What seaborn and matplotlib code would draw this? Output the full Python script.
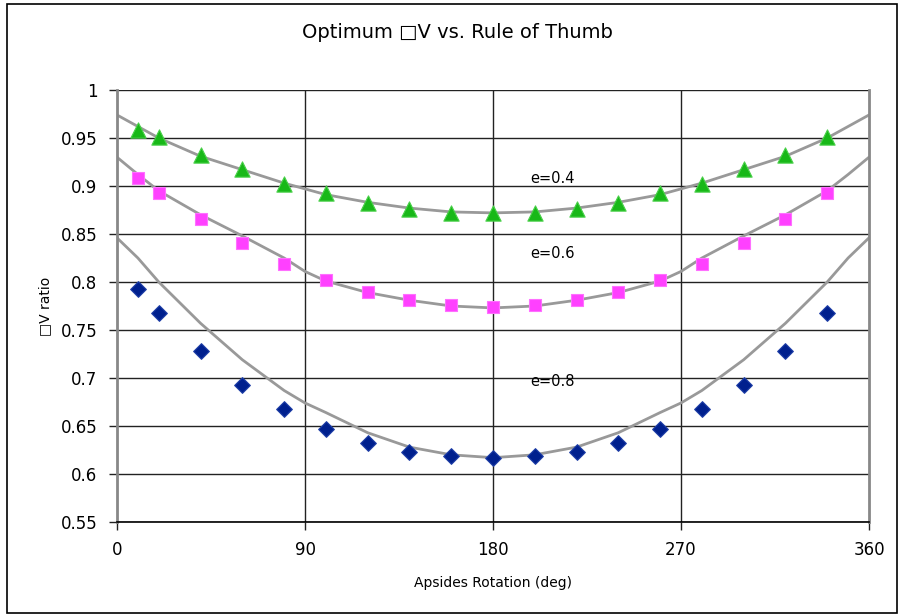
import matplotlib
matplotlib.use("Agg")
import matplotlib.pyplot as plt
import seaborn as sns
import pandas as pd
from matplotlib.patches import Rectangle

# ---- data ----
x_pts = [10, 20, 40, 60, 80, 100, 120, 140, 160, 180, 200, 220, 240, 260, 280, 300, 320, 340]
e04_pts = [0.958, 0.951, 0.932, 0.918, 0.902, 0.893, 0.882, 0.876, 0.872, 0.872,
           0.872, 0.876, 0.882, 0.893, 0.902, 0.918, 0.932, 0.951]
e06_pts = [0.908, 0.893, 0.866, 0.841, 0.819, 0.802, 0.790, 0.781, 0.776, 0.774,
           0.776, 0.781, 0.790, 0.802, 0.819, 0.841, 0.866, 0.893]
e08_pts = [0.793, 0.768, 0.728, 0.693, 0.668, 0.647, 0.632, 0.623, 0.619, 0.617,
           0.619, 0.623, 0.632, 0.647, 0.668, 0.693, 0.728, 0.768]

x_line = [0, 10, 20, 40, 60, 80, 90, 100, 120, 140, 160, 180, 200, 220, 240, 260, 270, 280, 300, 320, 340, 350, 360]
e04_line = [0.974, 0.962, 0.950, 0.931, 0.917, 0.903, 0.897, 0.891, 0.883, 0.877, 0.873, 0.872,
            0.873, 0.877, 0.883, 0.891, 0.897, 0.903, 0.917, 0.931, 0.950, 0.962, 0.974]
e06_line = [0.930, 0.912, 0.895, 0.870, 0.848, 0.825, 0.811, 0.801, 0.789, 0.781, 0.775, 0.773,
            0.775, 0.781, 0.789, 0.801, 0.811, 0.825, 0.848, 0.870, 0.895, 0.912, 0.930]
e08_line = [0.846, 0.825, 0.800, 0.757, 0.719, 0.687, 0.674, 0.664, 0.643, 0.628, 0.620, 0.617,
            0.620, 0.628, 0.643, 0.664, 0.674, 0.687, 0.719, 0.757, 0.800, 0.825, 0.846]

labels = ["e=0.4", "e=0.6", "e=0.8"]
label_y = [0.908, 0.830, 0.696]
label_x = 198

x_ticks = [0, 90, 180, 270, 360]
y_ticks = [0.55, 0.6, 0.65, 0.7, 0.75, 0.8, 0.85, 0.9, 0.95, 1.0]
y_ticklabels = ["0.55", "0.6", "0.65", "0.7", "0.75", "0.8", "0.85", "0.9", "0.95", "1"]

title = "Optimum \u25a1V vs. Rule of Thumb"
xlabel = "Apsides Rotation (deg)"
ylabel = "\u25a1V ratio"

# ---- build tables ----
pts = pd.DataFrame({
    "x": x_pts * 3,
    "y": e04_pts + e06_pts + e08_pts,
    "series": ["e04"] * len(x_pts) + ["e06"] * len(x_pts) + ["e08"] * len(x_pts),
})
lines = pd.DataFrame({
    "x": x_line * 3,
    "y": e04_line + e06_line + e08_line,
    "series": ["e04"] * len(x_line) + ["e06"] * len(x_line) + ["e08"] * len(x_line),
})

sns.set_theme(style="white")
plt.rcParams["font.family"] = ["DejaVu Sans"]
plt.rcParams["text.color"] = "black"
plt.rcParams["axes.labelcolor"] = "black"
plt.rcParams["xtick.color"] = "black"
plt.rcParams["ytick.color"] = "black"

fig = plt.figure(figsize=(8.99, 6.15), dpi=100)
ax = fig.add_axes([117 / 899, 1 - 522 / 615, (869 - 117) / 899, (522 - 90) / 615])

# gridlines
for yv in y_ticks:
    ax.axhline(yv, color="#222222", lw=1.0, zorder=0)
for xv in x_ticks[1:-1]:
    ax.axvline(xv, color="#222222", lw=1.0, zorder=0)

sns.lineplot(data=lines, x="x", y="y", units="series", estimator=None,
             color="#999999", lw=2.0, ax=ax, zorder=2, legend=False)

styles = {"e04": ("^", "#18B818", "#4ad04a", 11),
          "e06": ("s", "#FF40FF", "#FF70FF", 9),
          "e08": ("D", "#00208E", "#2040a8", 8)}
for key, (m, c, ec, s) in styles.items():
    sub = pts[pts["series"] == key]
    sns.scatterplot(data=sub, x="x", y="y", marker=m, color=c, edgecolor=ec,
                    s=s ** 2, linewidth=0.8, ax=ax, zorder=3, legend=False)

for lab, yv in zip(labels, label_y):
    ax.text(label_x, yv, lab, fontsize=10.5, color="black", va="center", ha="left")

ax.set_xlim(0, 360)
ax.set_ylim(0.55, 1.0)
ax.set_xticks(x_ticks)
ax.set_xticklabels([str(v) for v in x_ticks], fontsize=12)
ax.set_yticks(y_ticks)
ax.set_yticklabels(y_ticklabels, fontsize=12)
ax.tick_params(axis="both", direction="out", length=6, width=1, color="#222222",
               bottom=True, left=True, pad=8, labelcolor="black")
ax.set_xlabel(xlabel, fontsize=10, labelpad=12, color="black")
ax.set_ylabel(ylabel, fontsize=10, labelpad=6, color="black")

ax.spines["top"].set_visible(False)
ax.spines["bottom"].set_color("black")
ax.spines["bottom"].set_linewidth(1.2)
ax.spines["left"].set_color("#888888")
ax.spines["left"].set_linewidth(2)
ax.spines["right"].set_color("#888888")
ax.spines["right"].set_linewidth(2)

fig.text(457 / 899, 1 - 32 / 615, title, fontsize=14, ha="center", va="center",
         color="black")

fig.patches.append(Rectangle((7 / 899, 2 / 615), 1 - 9 / 899, 1 - 6 / 615,
                             transform=fig.transFigure, fill=False,
                             edgecolor="black", lw=1.2))

fig.savefig("out.png", dpi=100)
